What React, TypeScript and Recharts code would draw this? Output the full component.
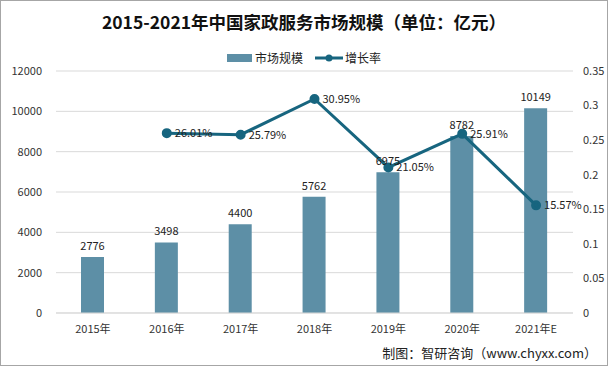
import { ComposedChart, Bar, Line, XAxis, YAxis, CartesianGrid, LabelList } from 'recharts';

const years = ['2015年', '2016年', '2017年', '2018年', '2019年', '2020年', '2021年E'];
const marketSize = [2776, 3498, 4400, 5762, 6975, 8782, 10149];
const growthRate = [null, 0.2601, 0.2579, 0.3095, 0.2105, 0.2591, 0.1557];
const leftTicks = [0, 2000, 4000, 6000, 8000, 10000, 12000];
const rightTicks = [0, 0.05, 0.1, 0.15, 0.2, 0.25, 0.3, 0.35];

const data = years.map((year, i) => ({ year, size: marketSize[i], rate: growthRate[i] }));

const FONT = '"Noto Sans CJK SC", "Noto Sans", sans-serif';
const BAR_COLOR = '#5d8fa6';
const LINE_COLOR = '#17657f';

export default function App() {
    return (
        <div style={{ position: 'absolute', left: 0, top: 0, width: 606, height: 364, border: '1px solid #a6a6a6', background: '#fff', fontFamily: FONT }}>
            {/* title */}
            <div style={{ position: 'absolute', top: 8, left: 0, width: 606, textAlign: 'center', fontSize: 17.5, fontWeight: 'bold', color: '#111' }}>
                2015-2021年中国家政服务市场规模（单位：亿元）
            </div>

            {/* legend */}
            <div style={{ position: 'absolute', top: 48, left: 0, width: 606, display: 'flex', justifyContent: 'center', alignItems: 'center', fontSize: 12, color: '#222' }}>
                <div style={{ width: 25, height: 8, background: BAR_COLOR, marginRight: 3 }}></div>
                <span style={{ marginRight: 12 }}>市场规模</span>
                <svg width={28} height={10} style={{ marginRight: 2 }}>
                    <line x1={0} y1={5} x2={28} y2={5} stroke={LINE_COLOR} strokeWidth={3} />
                    <circle cx={14} cy={5} r={3.5} fill={LINE_COLOR} />
                </svg>
                <span>增长率</span>
            </div>

            <ComposedChart width={606} height={364} data={data} margin={{ top: 70, right: 0, bottom: 30, left: 0 }}>
                <CartesianGrid vertical={false} stroke="#d9d9d9" yAxisId="left" />
                <XAxis
                    dataKey="year"
                    tickLine={false}
                    axisLine={{ stroke: '#d9d9d9' }}
                    tick={{ fill: '#333', fontSize: 11, fontFamily: FONT }}
                    tickMargin={6}
                    height={22}
                />
                <YAxis
                    yAxisId="left"
                    domain={[0, 12000]}
                    ticks={leftTicks}
                    width={55}
                    axisLine={false}
                    tickLine={false}
                    tick={{ fill: '#333', fontSize: 11, fontFamily: FONT }}
                    tickMargin={8}
                />
                <YAxis
                    yAxisId="right"
                    orientation="right"
                    domain={[0, 0.35]}
                    ticks={rightTicks}
                    width={34}
                    axisLine={false}
                    tickLine={false}
                    tick={{ fill: '#333', fontSize: 11, fontFamily: FONT, textAnchor: 'start' }}
                    tickMargin={4}
                />
                <Bar yAxisId="left" dataKey="size" fill={BAR_COLOR} barSize={23} isAnimationActive={false}>
                    <LabelList dataKey="size" position="top" offset={7} style={{ fill: '#222', fontSize: 11, fontFamily: FONT }} />
                </Bar>
                <Line
                    yAxisId="right"
                    dataKey="rate"
                    stroke={LINE_COLOR}
                    strokeWidth={3}
                    dot={{ r: 3.5, fill: LINE_COLOR, stroke: LINE_COLOR }}
                    connectNulls={false}
                    isAnimationActive={false}
                >
                    <LabelList
                        dataKey="rate"
                        position="right"
                        offset={8}
                        formatter={(v: any) => (v == null ? '' : (v * 100).toFixed(2) + '%')}
                        style={{ fill: '#222', fontSize: 11, fontFamily: FONT }}
                    />
                </Line>
            </ComposedChart>

            {/* source */}
            <div style={{ position: 'absolute', right: 10, bottom: 3, fontSize: 13, color: '#222' }}>
                制图：智研咨询（www.chyxx.com）
            </div>
        </div>
    );
}
